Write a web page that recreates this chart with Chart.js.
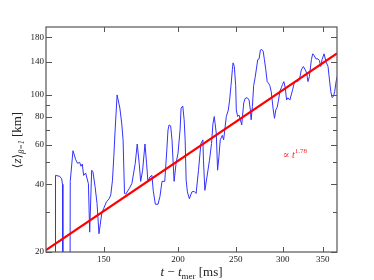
<!DOCTYPE html>
<html>
<head>
<meta charset="utf-8">
<script src="https://cdn.jsdelivr.net/npm/chart.js@4.4.1/dist/chart.umd.min.js"></script>
<style>
  html, body { margin: 0; padding: 0; background: #fff; }
  canvas { display: block; }
</style>
</head>
<body>
<canvas id="chart" width="374" height="280"></canvas>
<script>
// time since merger [ms] and mean height [km] of the blue curve
const times = [124.3, 124.5, 126.5, 127.5, 127.9, 128.1, 131.6, 131.8, 133.2, 134.6, 135.6, 136.7, 137.4, 138.1, 138.8, 139.9,
  141.4, 142.1, 143.2, 143.9, 145.1, 146.2, 147.3, 148.9, 150.0, 151.6, 153.2, 154.2, 155.2, 156.0, 156.8, 158.0,
  159.7, 160.9, 161.7, 162.6, 163.4, 165.6, 167.3, 169.5, 170.8, 172.1, 173.1, 174.4, 176.0, 177.1, 178.0, 179.4,
  180.8, 181.7, 183.2, 185.1, 186.5, 188.0, 190.0, 191.5, 192.4, 193.2, 194.4, 195.4, 197.0, 198.5, 200.0, 201.6,
  202.4, 203.7, 204.8, 205.6, 206.4, 207.4, 209.0, 211.0, 212.9, 214.5, 216.5, 218.5, 220.2, 220.7, 221.9, 223.7,
  225.9, 227.7, 228.9, 230.1, 231.9, 233.1, 234.3, 235.5, 237.4, 238.6, 241.1, 243.0, 244.2, 245.5, 246.8, 247.5,
  248.7, 250.0, 250.6, 251.9, 253.3, 254.6, 255.9, 257.9, 259.2, 261.3, 263.3, 264.6, 265.4, 266.7, 268.0, 269.5,
  272.3, 273.7, 275.1, 276.5, 278.1, 279.4, 280.9, 282.4, 283.8, 285.3, 286.8, 289.1, 290.5, 292.0, 293.6, 295.1,
  296.6, 298.2, 299.7, 301.2, 302.9, 304.4, 305.9, 308.3, 311.6, 314.0, 317.3, 319.8, 322.3, 324.8, 327.3, 329.0,
  330.7, 332.5, 335.1, 336.8, 338.5, 341.1, 343.8, 345.6, 347.4, 349.2, 351.9, 354.6, 357.4, 359.4, 361.2, 363.0,
  365.0, 366.8, 368.7, 370.7];
const heights = [5, 43.8, 43.4, 42.3, 40, 5, 5, 41.2, 56.4, 51.5, 49.6, 50, 48.1, 49.2, 43.8, 44.9,
  40.2, 24.5, 46.2, 45.4, 39.0, 32.9, 24.1, 29.7, 31.2, 33.4, 34.5, 35.9, 41.7, 53.0, 69.7, 99.8,
  87.2, 74.0, 63.0, 36.4, 36.2, 38.3, 40.3, 49.6, 60.4, 49.6, 41.2, 46.2, 60.4, 49.6, 41.2, 43.1,
  43.8, 37.6, 32.6, 32.6, 35.3, 41.2, 41.2, 56.7, 69.7, 73.4, 72.6, 63, 41.2, 49.6, 55.0, 69.7,
  87.2, 89.1, 77.4, 63, 41.7, 37.0, 34.5, 37.0, 37.2, 36.4, 46.2, 60.7, 63.0, 51.2, 37.6, 43.1,
  51.2, 60.7, 74.0, 80, 67.5, 46.2, 53.0, 63, 66, 63, 80, 85.6, 94.7, 109.8, 129.1, 138.6,
  133.5, 109.8, 85.6, 80, 81.2, 77.4, 73.4, 91.9, 96.1, 97.1, 94.7, 85.6, 77.4, 88.6, 109.8, 118.9,
  143.3, 144.3, 158, 159, 156, 143, 129, 114.4, 112.6, 109.8, 103.6, 85.6, 78.6, 85.6, 88.1, 94.7,
  103.6, 107.3, 111.0, 114.4, 107.3, 94.7, 96.9, 94.7, 105.2, 114.4, 114.4, 116.3, 129, 133.5, 129, 124.8,
  114.4, 120.4, 143.3, 152, 149.6, 144.3, 144.3, 142, 133.5, 143.3, 152, 140.1, 133.5, 116.3, 103.6, 97.1,
  98.3, 103.6, 114.4, 122];

// power-law fit, end points
const fitTimes = [120, 370];
const fitHeights = [20.4, 152.7];

const xTickValues = [150, 200, 250, 300, 350];
const yTickValues = [20, 30, 40, 50, 60, 70, 80, 90, 100, 140, 180];
const yTickLabels = [20, 40, 60, 80, 100, 140, 180];

const serif = '"Liberation Serif", "DejaVu Serif", serif';

// draws a list of text pieces (with sub/superscripts) in a row
function drawParts(ctx, parts, x, y) {
  let total = 0;
  parts.forEach(p => { ctx.font = p.font; total += ctx.measureText(p.text).width; });
  let cx = x - total / 2;
  ctx.textAlign = 'left';
  ctx.textBaseline = 'alphabetic';
  parts.forEach(p => {
    ctx.font = p.font;
    ctx.fillText(p.text, cx, y + (p.dy || 0));
    cx += ctx.measureText(p.text).width;
  });
}

const frameAndLabels = {
  id: 'frameAndLabels',
  afterDraw(chart) {
    const ctx = chart.ctx;
    const a = chart.chartArea;
    const xs = chart.scales.x;
    const ys = chart.scales.y;
    ctx.save();
    ctx.strokeStyle = '#555';
    ctx.lineWidth = 1.2;
    ctx.strokeRect(a.left, a.top, a.right - a.left, a.bottom - a.top);

    // inward ticks on all four sides
    ctx.lineWidth = 1;
    ctx.beginPath();
    xTickValues.forEach(v => {
      const p = Math.round(xs.getPixelForValue(v)) + 0.5;
      ctx.moveTo(p, a.bottom); ctx.lineTo(p, a.bottom - 5);
      ctx.moveTo(p, a.top); ctx.lineTo(p, a.top + 5);
    });
    yTickValues.forEach(v => {
      const p = Math.round(ys.getPixelForValue(v)) + 0.5;
      const len = yTickLabels.includes(v) ? 6 : 4;
      ctx.moveTo(a.left, p); ctx.lineTo(a.left + len, p);
      ctx.moveTo(a.right, p); ctx.lineTo(a.right - len, p);
    });
    ctx.stroke();

    // axis titles
    ctx.fillStyle = '#222';
    drawParts(ctx, [
      { text: 't', font: 'italic 13px ' + serif },
      { text: ' \u2212 ', font: '13px ' + serif },
      { text: 't', font: 'italic 13px ' + serif },
      { text: 'mer', font: '9px ' + serif, dy: 3 },
      { text: ' [ms]', font: '13px ' + serif }
    ], (a.left + a.right) / 2, 276);

    ctx.save();
    ctx.translate(21, 140);
    ctx.rotate(-Math.PI / 2);
    drawParts(ctx, [
      { text: '\u27E8', font: '12px ' + serif },
      { text: 'z', font: 'italic 13px ' + serif },
      { text: '\u27E9', font: '12px ' + serif },
      { text: '\u03B2=1', font: 'italic 8px ' + serif, dy: 3 },
      { text: ' [km]', font: '13px ' + serif }
    ], 0, 0);
    ctx.restore();

    // fit annotation
    const ax = xs.getPixelForValue(300);
    const ay = ys.getPixelForValue(52.5);
    const parts = [
      { text: '\u221D ', font: '10px ' + serif },
      { text: 't', font: 'italic 10px ' + serif },
      { text: '1.78', font: '7px ' + serif, dy: -5 }
    ];
    let w = 0;
    parts.forEach(p => { ctx.font = p.font; w += ctx.measureText(p.text).width; });
    ctx.fillStyle = '#ff2020';
    drawParts(ctx, parts, ax + w / 2, ay);
    ctx.restore();
  }
};

new Chart(document.getElementById('chart'), {
  type: 'line',
  data: {
    datasets: [
      {
        data: fitTimes.map((t, i) => ({ x: t, y: fitHeights[i] })),
        borderColor: '#ff0000',
        borderWidth: 2.2,
        pointRadius: 0
      },
      {
        data: times.map((t, i) => ({ x: t, y: heights[i] })),
        borderColor: 'rgb(50,50,255)',
        borderWidth: 1,
        pointRadius: 0,
        tension: 0
      }
    ]
  },
  options: {
    responsive: false,
    animation: false,
    layout: { padding: { top: 27, right: 37, left: 0, bottom: 0 } },
    plugins: { legend: { display: false }, tooltip: { enabled: false } },
    scales: {
      x: {
        type: 'logarithmic',
        min: 120,
        max: 370,
        grid: { display: false, drawTicks: false },
        border: { display: false },
        afterBuildTicks: s => { s.ticks = xTickValues.map(v => ({ value: v })); },
        afterFit: s => { s.height = 28; },
        ticks: {
          autoSkip: false,
          maxRotation: 0,
          padding: 2,
          color: '#222',
          font: { family: serif, size: 9 },
          callback: v => String(v)
        }
      },
      y: {
        type: 'logarithmic',
        min: 20,
        max: 200,
        grid: { display: false, drawTicks: false },
        border: { display: false },
        afterBuildTicks: s => { s.ticks = yTickValues.map(v => ({ value: v })); },
        afterFit: s => { s.width = 46; },
        ticks: {
          autoSkip: false,
          padding: 2,
          color: '#222',
          font: { family: serif, size: 9 },
          callback: v => yTickLabels.includes(v) ? String(v) : ''
        }
      }
    }
  },
  plugins: [frameAndLabels]
});
</script>
</body>
</html>
